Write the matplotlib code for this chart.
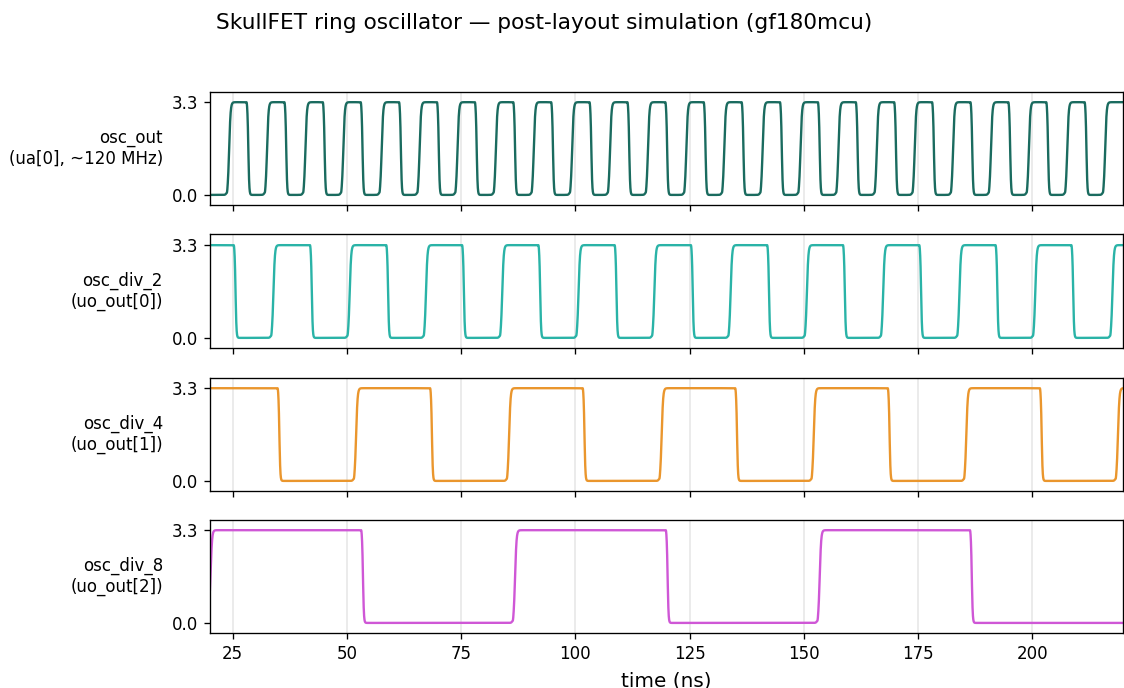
import numpy as np
import matplotlib
matplotlib.use("Agg")
import matplotlib.pyplot as plt

# ---- data (edge times in ns) ----
t_start, t_end = 19.9, 220.5
vdd = 3.3

osc_out_rise = [24.2, 32.5, 40.9, 49.2, 57.6, 65.9, 74.2, 82.6, 90.9, 99.3, 107.6, 115.9,
                124.3, 132.6, 141.0, 149.3, 157.6, 166.0, 174.3, 182.7, 191.0, 199.3, 207.7, 216.0]
osc_out_fall = [28.4, 36.7, 45.1, 53.4, 61.8, 70.1, 78.4, 86.8, 95.1, 103.5, 111.8, 120.1,
                128.5, 136.8, 145.2, 153.5, 161.8, 170.2, 178.5, 186.9, 195.2, 203.5, 211.9]
osc_out_init = 0.0

div2_rise = [33.9, 50.6, 67.3, 84.0, 100.7, 117.3, 134.0, 150.7, 167.4, 184.1, 200.7, 217.6]
div2_fall = [25.6, 42.3, 59.0, 75.6, 92.3, 109.0, 125.7, 142.4, 159.0, 175.7, 192.4, 209.0]
div2_init = 3.3

div4_rise = [52.0, 85.5, 118.9, 152.2, 185.6, 218.8]
div4_fall = [35.2, 68.6, 102.0, 135.4, 168.8, 202.1]
div4_init = 3.3

div8_rise = [20.15, 86.8, 153.5]
div8_fall = [53.5, 120.2, 186.8]
div8_init = 0.4

labels = ["osc_out\n(ua[0], ~120 MHz)", "osc_div_2\n(uo_out[0])",
          "osc_div_4\n(uo_out[1])", "osc_div_8\n(uo_out[2])"]
colors = ["#1a6b5f", "#2ab3a7", "#ea962d", "#cf57d6"]
xticks = [25, 50, 75, 100, 125, 150, 175, 200]
title = "SkullFET ring oscillator \u2014 post-layout simulation (gf180mcu)"


def waveform(t, init, rises, falls, tau_r=0.16, tau_f=0.1, kick=0.07):
    events = sorted([(r, +1) for r in rises] + [(f, -1) for f in falls])
    first = events[0][0]
    v = np.full_like(t, init)
    for te, d in events:
        if d > 0:
            step = 1.0 / (1.0 + np.exp(-(t - te) / tau_r))
            amp = vdd - init if te == first else vdd
            v = v + amp * step
            v = v - kick * np.exp(-((t - te + 0.45) / 0.12) ** 2)
        else:
            step = 1.0 / (1.0 + np.exp(-(t - te) / tau_f))
            amp = init if te == first else vdd
            v = v - amp * step
            v = v + kick * np.exp(-((t - te + 0.35) / 0.12) ** 2)
    return v


t = np.arange(t_start, t_end, 0.01)
signals = [
    (osc_out_init, osc_out_rise, osc_out_fall),
    (div2_init, div2_rise, div2_fall),
    (div4_init, div4_rise, div4_fall),
    (div8_init, div8_rise, div8_fall),
]

plt.rcParams["axes.linewidth"] = 0.96
fig = plt.figure(figsize=(11.24, 6.88), dpi=100)
bottoms = [0.702, 0.4942, 0.2863, 0.0799]
left, width, height = 0.1868, 0.8127, 0.1650
axes = []
for i, (init, r, f) in enumerate(signals):
    ax = fig.add_axes([left, bottoms[i], width, height])
    v = waveform(t, init, r, f)
    ax.plot(t, v, color=colors[i], lw=1.7)
    ax.set_xlim(20, 220)
    ax.set_ylim(-0.36, 3.68)
    ax.set_yticks([0.0, 3.3])
    ax.set_yticklabels(["0.0", "3.3"])
    ax.set_xticks(xticks)
    ax.grid(axis="x", color="#d0d0d0", alpha=0.5, lw=1.2)
    ax.set_ylabel(labels[i], rotation=0, ha="right", va="center", fontsize=12)
    ax.yaxis.set_label_coords(-0.0515, 0.5)
    ax.tick_params(labelsize=12, length=4.2, width=0.96, pad=4.2)
    if i < 3:
        ax.tick_params(labelbottom=False)
    axes.append(ax)

axes[-1].set_xlabel("time (ns)", fontsize=14.4, labelpad=6)
fig.text(0.484, 0.966, title, ha="center", va="center", fontsize=15.6)

fig.savefig("out.png", dpi=100)
